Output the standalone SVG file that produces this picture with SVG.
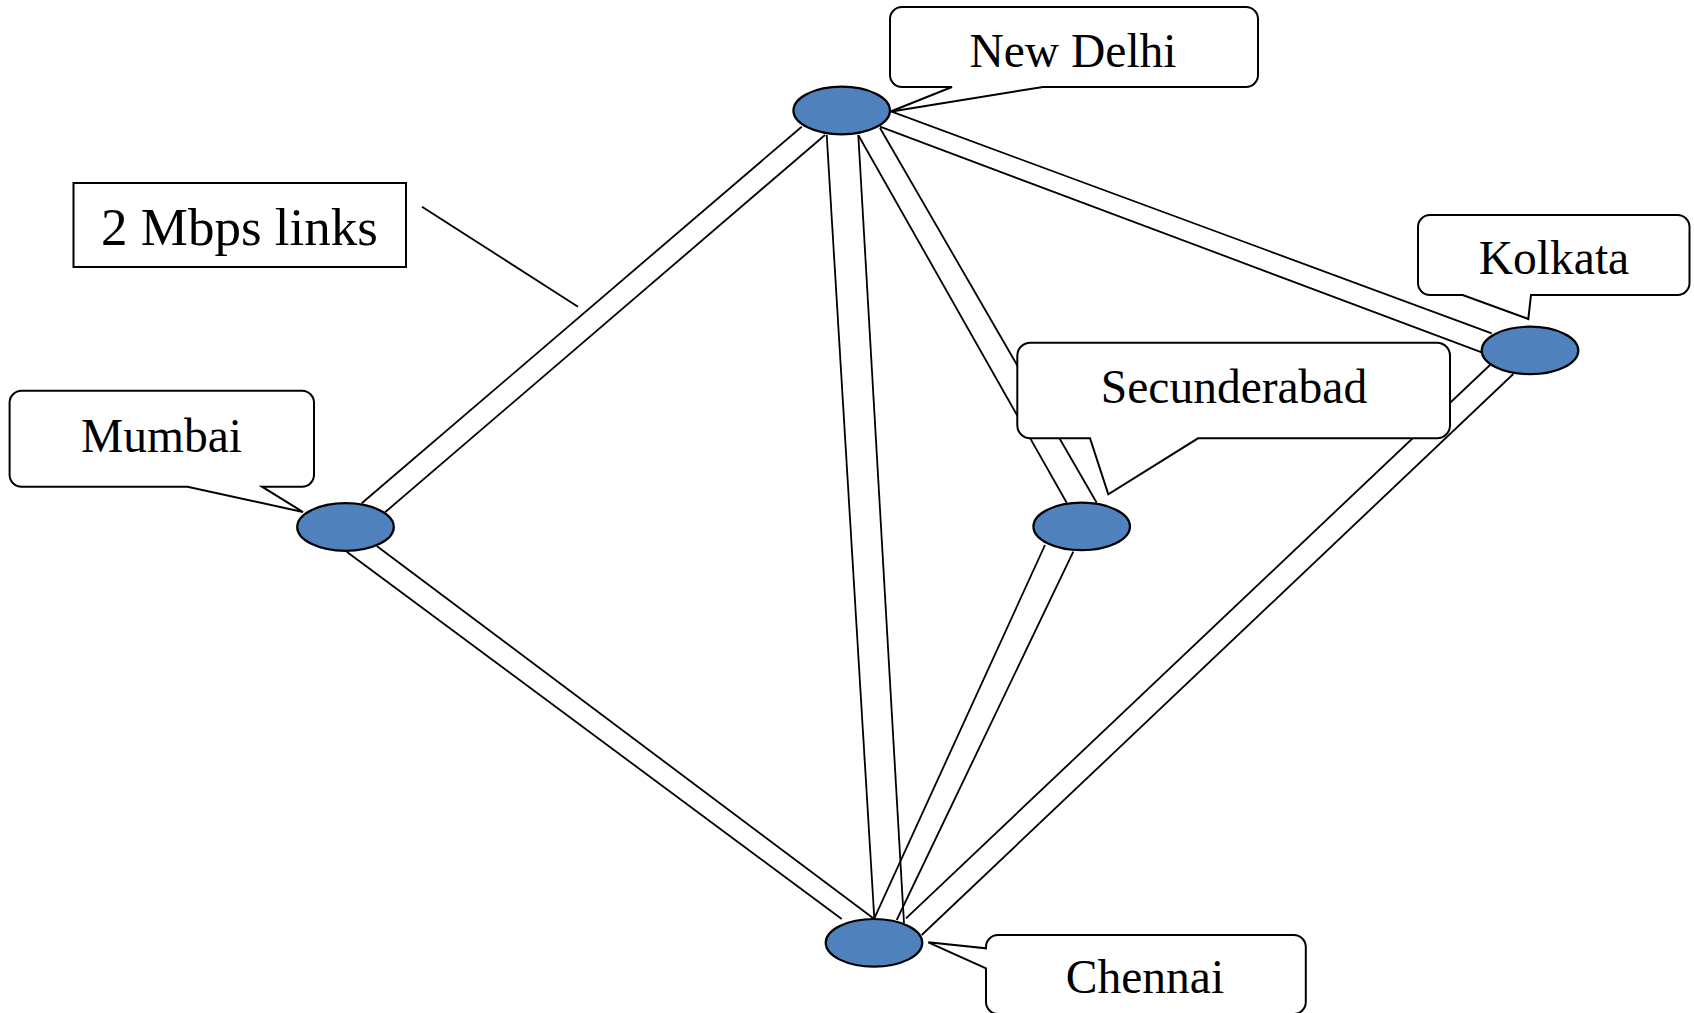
<svg xmlns="http://www.w3.org/2000/svg" width="1694" height="1013" viewBox="0 0 1694 1013">
<style>
.link{stroke:#000;stroke-width:1.8;fill:none}
.site{fill:#4F81BD;stroke:#000;stroke-width:2.2}
.callout{fill:#fff;stroke:#000;stroke-width:2;stroke-linejoin:miter}
.lbl{font-family:"Liberation Serif","Times New Roman",serif;font-size:47.5px;fill:#000;text-anchor:middle}
</style>
<rect width="1694" height="1013" fill="#fff"/>
<g id="connectors">
<line class="link" x1="801.7" y1="126.7" x2="361.7" y2="503.3"/>
<line class="link" x1="825" y1="135" x2="385" y2="512.3"/>
<line class="link" x1="826.7" y1="135" x2="874.3" y2="918.3"/>
<line class="link" x1="858.3" y1="135" x2="904" y2="923.3"/>
<line class="link" x1="858.5" y1="135.5" x2="1066.7" y2="502.7"/>
<line class="link" x1="880" y1="128" x2="1096.7" y2="502.7"/>
<line class="link" x1="891.7" y1="111.7" x2="1491.7" y2="333.3"/>
<line class="link" x1="880" y1="126.7" x2="1481.7" y2="352.3"/>
<line class="link" x1="346.7" y1="551.7" x2="841.7" y2="919"/>
<line class="link" x1="376.7" y1="546" x2="873.3" y2="918.3"/>
<line class="link" x1="1045" y1="545" x2="874.3" y2="918.3"/>
<line class="link" x1="1073.3" y1="551.7" x2="896.7" y2="920"/>
<line class="link" x1="1490" y1="365" x2="906" y2="918.3"/>
<line class="link" x1="1513.3" y1="374" x2="921.7" y2="935"/>
</g>
<g id="legend">
<rect x="73.5" y="183" width="332.5" height="84" fill="#fff" stroke="#000" stroke-width="2"/>
<text class="lbl" x="239.5" y="245" style="font-size:53px">2 Mbps links</text>
<line class="link" x1="422" y1="206.7" x2="578" y2="306.7"/>
</g>
<g id="new-delhi">
<path class="callout" d="M902,7 H1246 A12,12 0 0 1 1258,19 V75 A12,12 0 0 1 1246,87 H1043 L890,111.7 L952,87 H902 A12,12 0 0 1 890,75 V19 A12,12 0 0 1 902,7 Z"/>
<text class="lbl" x="1073" y="67">New Delhi</text>
<ellipse class="site" cx="841.7" cy="110.5" rx="48.3" ry="23.8"/>
</g>
<g id="mumbai">
<path class="callout" d="M21.6,390.7 H302 A12,12 0 0 1 314,402.7 V474.7 A12,12 0 0 1 302,486.7 H262 L303,512 L187.5,486.7 H21.6 A12,12 0 0 1 9.6,474.7 V402.7 A12,12 0 0 1 21.6,390.7 Z"/>
<text class="lbl" x="161.5" y="451.7">Mumbai</text>
<ellipse class="site" cx="345.5" cy="527" rx="48.3" ry="23.8"/>
</g>
<g id="kolkata">
<path class="callout" d="M1430,215 H1677.5 A12,12 0 0 1 1689.5,227 V283 A12,12 0 0 1 1677.5,295 H1531 L1528.3,319 L1462.7,295 H1430 A12,12 0 0 1 1418,283 V227 A12,12 0 0 1 1430,215 Z"/>
<text class="lbl" x="1554" y="274">Kolkata</text>
<ellipse class="site" cx="1530" cy="350.4" rx="48.3" ry="23.7"/>
</g>
<g id="secunderabad">
<path class="callout" d="M1030.3,342.7 H1437 A13,13 0 0 1 1450,355.7 V425.3 A13,13 0 0 1 1437,438.3 H1198 L1108.3,494.3 L1090,438.3 H1030.3 A13,13 0 0 1 1017.3,425.3 V355.7 A13,13 0 0 1 1030.3,342.7 Z"/>
<text class="lbl" x="1234" y="403.3">Secunderabad</text>
<ellipse class="site" cx="1081.7" cy="526.4" rx="48.3" ry="23.7"/>
</g>
<g id="chennai">
<path class="callout" d="M998,935 H1293.8 A12,12 0 0 1 1305.8,947 V1002 A12,12 0 0 1 1293.8,1014 H998 A12,12 0 0 1 986,1002 V968.3 L928.3,942.3 L986,948.3 V947 A12,12 0 0 1 998,935 Z"/>
<text class="lbl" x="1145" y="993">Chennai</text>
<ellipse class="site" cx="874" cy="942.8" rx="48.3" ry="23.8"/>
</g>
</svg>
